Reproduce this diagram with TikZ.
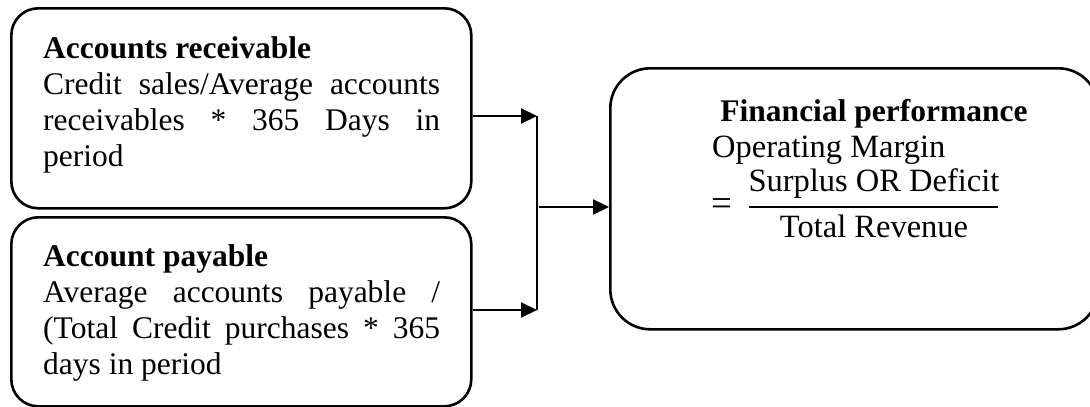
\documentclass[tikz,border=0pt]{standalone}
\usepackage{fontspec}
\setmainfont{Liberation Serif}
\usetikzlibrary{arrows.meta}

% one full-width, evenly spread line of a justified paragraph
\newcommand\fullline[1]{\makebox[397pt][s]{#1}}

\begin{document}
\begin{tikzpicture}[x=1pt, y=-1pt,
  card/.style={draw, line width=2.6pt, rounded corners=27pt, inner sep=0pt},
  bigcard/.style={card, rounded corners=40pt},
  body/.style={anchor=base west, inner sep=0pt, font=\fontsize{31.5}{36}\selectfont},
  eqtext/.style={inner sep=0pt, font=\fontsize{32.5}{36}\selectfont},
  feed/.style={line width=2.2pt, -{Triangle[length=16pt, width=15pt]}},
  joint/.style={line width=1.4pt},
  bar/.style={line width=2.8pt}
]
\useasboundingbox (0,0) rectangle (1090,407);

% the three rounded boxes
\node[card, minimum width=460pt, minimum height=200pt, anchor=north west] (ar) at (10,7) {};
\node[card, minimum width=460pt, minimum height=189pt, anchor=north west] (ap) at (10,216) {};
\node[bigcard, minimum width=488pt, minimum height=261pt, anchor=north west] (fp) at (609,67) {};

% accounts receivable
\node[body] (artext) at (43,58) {\parbox[t]{397pt}{%
  \textbf{Accounts receivable}\\
  \fullline{Credit sales/Average accounts}\\
  \fullline{receivables * 365 Days in}\\
  period}};

% account payable
\node[body] (aptext) at (43,266) {\parbox[t]{397pt}{%
  \textbf{Account payable}\\
  \fullline{Average accounts payable /}\\
  \fullline{(Total Credit purchases * 365}\\
  days in period}};

% financial performance
\node[body, anchor=base, font=\fontsize{31.5}{36}\selectfont\bfseries] (fptitle) at (874,121) {Financial performance};
\node[eqtext, anchor=base west] (om) at (712,157) {Operating Margin};
\node[eqtext, anchor=west, font=\fontsize{37}{36}\selectfont] (eqs) at (711,207) {=};
\node[eqtext, anchor=base] (num) at (874,191) {Surplus OR Deficit};
\node[eqtext, anchor=base] (den) at (874,237) {Total Revenue};
\coordinate (barl) at (749,207);
\coordinate (barr) at (998,207);
\draw[bar] (barl) -- (barr);

% connectors
\coordinate (jt) at (537,116);
\coordinate (jb) at (537,310);
\coordinate (jm) at (539,207);
\draw[feed] (ar.east |- jt) -- (jt);
\draw[feed] (ap.east |- jb) -- (jb);
\draw[joint] (jt) -- (jb);
\draw[feed] (jm) -- (fp.west |- jm);
\end{tikzpicture}
\end{document}
